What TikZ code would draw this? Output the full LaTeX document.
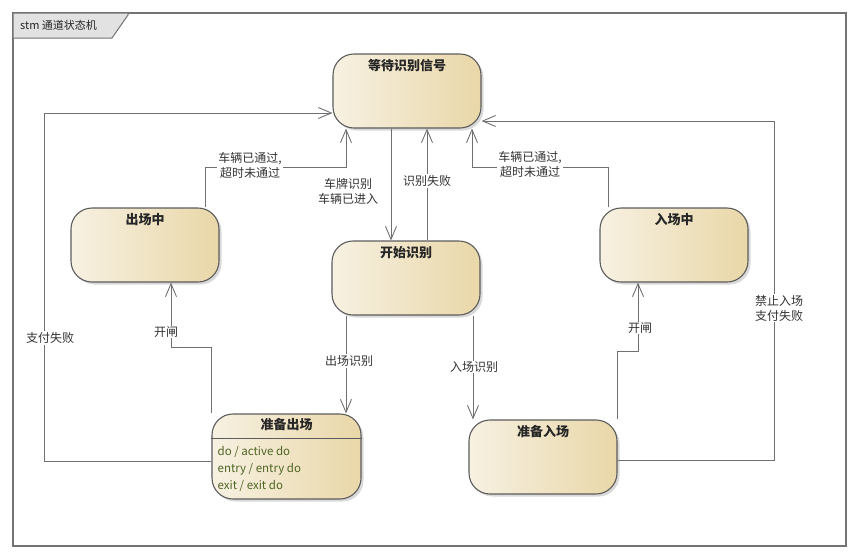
\documentclass[tikz,border=0pt]{standalone}
\usepackage{fontspec}
\setmainfont{Noto Sans CJK SC}
\usetikzlibrary{arrows.meta,shadows}

\definecolor{wire}{HTML}{707070}
\definecolor{edge}{HTML}{5C5C5C}
\definecolor{creamL}{HTML}{F7F1E2}
\definecolor{creamR}{HTML}{E9D7A8}
\definecolor{labelc}{HTML}{333333}
\definecolor{actc}{HTML}{4E6424}
\definecolor{tabfill}{HTML}{E2E2E2}

\tikzset{
  statebox/.style={draw=edge, line width=1.1pt, rounded corners=21pt,
    left color=creamL, right color=creamR,
    minimum width=148pt, minimum height=74pt, inner sep=0pt,
    drop shadow={shadow xshift=2.5pt, shadow yshift=-2.5pt, opacity=0.25, fill=black!60}},
  stitle/.style={font=\fontsize{13}{15}\selectfont\bfseries, text=black!85, inner sep=0pt},
  tr/.style={draw=wire, line width=0.9pt, -{Straight Barb[length=13pt,width=11pt,line width=0.9pt]}},
  lbl/.style={font=\fontsize{12}{15}\selectfont, text=labelc, align=center, inner sep=1pt},
  onwire/.style={lbl, fill=white},
}

\begin{document}
\begin{tikzpicture}[x=1pt, y=-1pt]
  \useasboundingbox (0,0) rectangle (858,558);

  % diagram frame and its name tab
  \draw[black!55, line width=1.3pt] (13,13) rectangle (846,546);
  \draw[black!55, line width=1pt, fill=tabfill] (13,13) -- (128,13) -- (128,15) -- (112,38) -- (13,38) -- cycle;
  \node[anchor=west, font=\fontsize{11}{13}\selectfont, text=black!85, inner sep=0pt] (frametitle) at (20,25) {stm 通道状态机};

  % states
  \node[statebox] (dd) at (407,91) {};
  \node[stitle, anchor=north] (ddt) at ([yshift=-6pt]dd.north) {等待识别信号};

  \node[statebox] (cz) at (145,245) {};
  \node[stitle, anchor=north] (czt) at ([yshift=-6pt]cz.north) {出场中};

  \node[statebox] (ks) at (406,278) {};
  \node[stitle, anchor=north] (kst) at ([yshift=-6pt]ks.north) {开始识别};

  \node[statebox] (rz) at (674,245) {};
  \node[stitle, anchor=north] (rzt) at ([yshift=-6pt]rz.north) {入场中};

  \node[statebox, minimum width=149pt, minimum height=85pt] (zc) at (286.5,456.5) {};
  \node[stitle, anchor=north] (zct) at ([yshift=-5pt]zc.north) {准备出场};
  \draw[edge, line width=1pt] ([yshift=-25pt]zc.north west) -- ([yshift=-25pt]zc.north east);
  \node[anchor=north west, align=left, inner sep=0pt, text=actc,
        font=\fontsize{11.5}{17}\selectfont] (zcact) at ([xshift=6pt,yshift=-33pt]zc.north west)
        {do / active do\\entry / entry do\\exit / exit do};

  \node[statebox] (zr) at (543,457) {};
  \node[stitle, anchor=north] (zrt) at ([yshift=-6pt]zr.north) {准备入场};

  % transitions
  \draw[tr] ([xshift=60pt]cz.north) |- ([xshift=-61pt,yshift=-39pt]dd.south) -- ([xshift=-61pt]dd.south);
  \draw[tr] ([xshift=-16pt]dd.south) -- ([xshift=-15pt]ks.north);
  \draw[tr] ([xshift=21pt]ks.north) -- ([xshift=20pt]dd.south);
  \draw[tr] ([xshift=-66pt]rz.north) |- ([xshift=65pt,yshift=-39pt]dd.south) -- ([xshift=65pt]dd.south);
  \draw[tr] ([yshift=-4.5pt]zc.west) -| ([xshift=-288pt,yshift=-22pt]dd.west) -- ([yshift=-22pt]dd.west);
  \draw[tr] (zc.north west) -- ++(0,-66) -| ([xshift=26pt]cz.south);
  \draw[tr] ([xshift=-60pt]ks.south) -- ([xshift=59.5pt]zc.north);
  \draw[tr] ([xshift=67pt]ks.south) -- ([xshift=-70pt]zr.north);
  \draw[tr] (zr.north east) -- ++(0,-68) -| ([xshift=-36pt]rz.south);
  \draw[tr] ([yshift=-3pt]zr.east) -| ([xshift=293pt,yshift=-30pt]dd.east) -- ([yshift=-30pt]dd.east);

  % transition labels
  \node[onwire] (l1) at (250,165) {车辆已通过,\\超时未通过};
  \node[lbl] (l2) at (348,191) {车牌识别\\车辆已进入};
  \node[onwire] (l3) at (427,181) {识别失败};
  \node[onwire] (l4) at (530,164) {车辆已通过,\\超时未通过};
  \node[onwire] (l5) at (50,338) {支付失败};
  \node[onwire] (l6) at (166,332) {开闸};
  \node[onwire] (l7) at (349,361) {出场识别};
  \node[onwire] (l8) at (474,367) {入场识别};
  \node[onwire] (l9) at (640,328) {开闸};
  \node[onwire] (l10) at (779,308) {禁止入场\\支付失败};
\end{tikzpicture}
\end{document}
